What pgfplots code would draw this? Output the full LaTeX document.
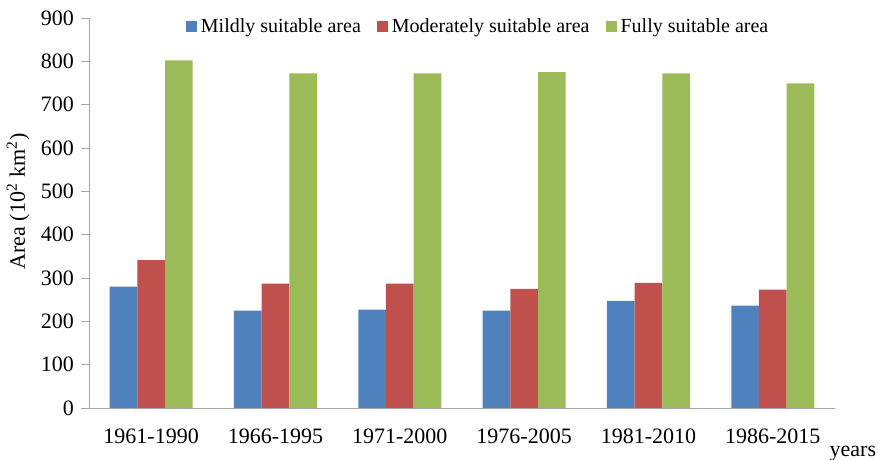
\documentclass[border=0pt]{standalone}
\usepackage{fontspec}
\setmainfont{Liberation Serif}
\usepackage{pgfplots}
\pgfplotsset{compat=1.18}
\definecolor{cblue}{HTML}{4F81BD}
\definecolor{cred}{HTML}{C0504D}
\definecolor{cgreen}{HTML}{9BBB59}
\definecolor{axgray}{HTML}{A6A6A6}
\begin{document}
\begin{tikzpicture}
\begin{axis}[
  name=ax,
  clip=false,
  scale only axis, width=373pt, height=195pt,
  ybar=0pt, bar width=13.85pt,
  xmin=-0.5, xmax=5.5, ymin=0, ymax=900,
  ytick={0,100,...,900},
  xtick={0,...,5},
  xticklabels={1961-1990,1966-1995,1971-2000,1976-2005,1981-2010,1986-2015},
  major x tick style={draw=none},
  extra x ticks={-0.5,0.5,1.5,2.5,3.5,4.5,5.5},
  extra x tick labels={},
  extra x tick style={tick style={draw=axgray}},
  axis x line*=bottom, axis y line*=left,
  axis line style={draw=axgray},
  tick align=outside, major tick length=4pt,
  tick style={draw=axgray},
  tick label style={font=\fontsize{11}{13}\selectfont},
  x tick label style={yshift=-3pt},
  /pgf/number format/assume math mode=true,
  ylabel={Area (10\textsuperscript{2} km\textsuperscript{2})},
  ylabel style={font=\fontsize{11}{13}\selectfont, at={(axis description cs:-0.095,0.53)}, anchor=center, rotate=0},
  legend columns=3,
  legend style={draw=none, fill=none, font=\fontsize{10}{12}\selectfont,
    at={(axis description cs:0.523,0.977)}, anchor=center,
    /tikz/every even column/.append style={column sep=6pt}},
  legend image code/.code={\fill[#1,draw=none] (0pt,-2.75pt) rectangle (5.5pt,2.75pt);},
]
\addplot[fill=cblue, draw=none] coordinates {(0,280) (1,224.5) (2,227) (3,224.5) (4,247) (5,236)};
\addplot[fill=cred, draw=none] coordinates {(0,341.5) (1,287) (2,287) (3,275) (4,289) (5,273)};
\addplot[fill=cgreen, draw=none] coordinates {(0,802) (1,772) (2,772) (3,775) (4,772) (5,749)};
\legend{Mildly suitable area, Moderately suitable area, Fully suitable area}
\node[font=\fontsize{11}{13}\selectfont] at (rel axis cs:1.024,-0.117) {years};
\end{axis}
\pgfresetboundingbox
\useasboundingbox ([xshift=-44.5pt,yshift=-26pt]ax.south west) rectangle ([xshift=398pt,yshift=204pt]ax.south west);
\end{tikzpicture}
\end{document}
